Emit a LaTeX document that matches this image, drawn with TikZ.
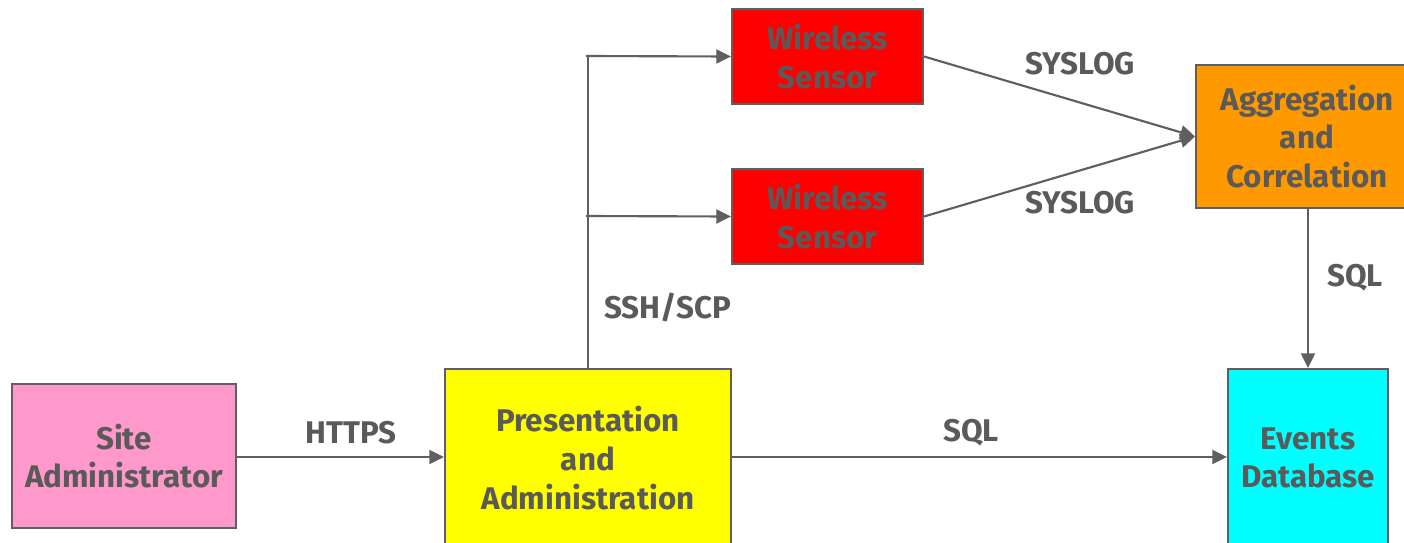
\documentclass[tikz,border=0pt]{standalone}
\usepackage{fontspec}
\setmainfont{Fira Sans}
\usetikzlibrary{arrows.meta}
\definecolor{linegray}{HTML}{5F5F5F}
\definecolor{txtgray}{HTML}{5A5A5A}
\definecolor{boxred}{HTML}{FF0000}
\definecolor{boxorange}{HTML}{FF9900}
\definecolor{boxyellow}{HTML}{FFFF00}
\definecolor{boxpink}{HTML}{FF99CC}
\definecolor{boxcyan}{HTML}{00FFFF}
\tikzset{
  blk/.style={draw=linegray, line width=1.6pt, align=center, inner sep=0pt,
    text=txtgray, font=\fontsize{23.5}{29}\selectfont\bfseries},
  conn/.style={draw=linegray, line width=1.6pt, -{Triangle[length=11pt,width=10.5pt]}},
  plain/.style={draw=linegray, line width=1.6pt},
  lbl/.style={text=txtgray, font=\fontsize{23.5}{28}\selectfont\bfseries, inner sep=0pt}
}
\begin{document}
\begin{tikzpicture}[x=0.75pt,y=-0.75pt]
\useasboundingbox (0,0) rectangle (1404,543);
\node[blk, fill=boxred, minimum width=191*0.75pt, minimum height=95*0.75pt] (ws1) at (827.5,56.5) {Wireless\\Sensor};
\node[blk, fill=boxred, minimum width=191*0.75pt, minimum height=95*0.75pt] (ws2) at (827.5,216.5) {Wireless\\Sensor};
\node[blk, fill=boxorange, minimum width=222*0.75pt, minimum height=143*0.75pt] (agg) at (1307,136.5) {Aggregation\\and\\Correlation};
\node[blk, fill=boxpink, minimum width=224*0.75pt, minimum height=144*0.75pt] (site) at (124,456) {Site\\Administrator};
\node[blk, fill=boxyellow, minimum width=286*0.75pt, minimum height=178*0.75pt] (pres) at (588,458) {Presentation\\and\\Administration};
\node[blk, fill=boxcyan, minimum width=160*0.75pt, minimum height=178*0.75pt] (evt) at (1308,458) {Events\\Database};

\coordinate (top) at (588,56);
\coordinate (t1) at (586,56);
\coordinate (t2) at (586,216);
\draw[plain] (pres.north -| top) -- (top);
\draw[conn] (t1) -- (ws1.west);
\draw[conn] (t2) -- (ws2.west);
\draw[conn] (site.east |- 0,457) -- (pres.west |- 0,457);
\draw[conn] (pres.east |- 0,457) -- (evt.west |- 0,457);
\draw[conn] (ws1.east) -- (agg.west);
\draw[conn] (ws2.east) -- (agg.west);
\draw[conn] (agg.south -| evt.north) -- (evt.north);
\node[lbl] (https) at (351,433) {HTTPS};
\node[lbl] (sql1) at (971,433) {SQL};
\node[lbl] (syslog1) at (1080,64) {SYSLOG};
\node[lbl] (syslog2) at (1080,203) {SYSLOG};
\node[lbl] (ssh) at (668,307) {SSH/SCP};
\node[lbl] (sql2) at (1355,278) {SQL};
\end{tikzpicture}
\end{document}
